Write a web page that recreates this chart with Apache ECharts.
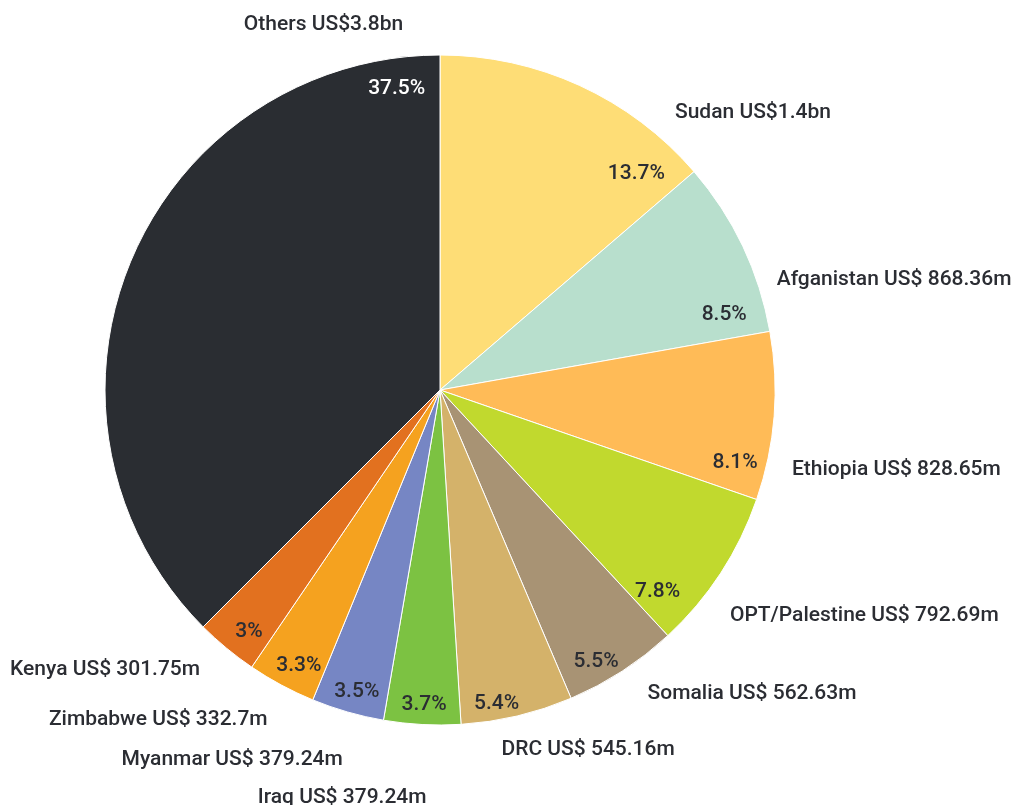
<!DOCTYPE html>
<html>
<head>
<meta charset="utf-8">
<title>Aid recipients</title>
<script src="https://cdn.jsdelivr.net/npm/echarts@6/dist/echarts.min.js"></script>
<style>
  html, body { margin: 0; padding: 0; background: #fff; }
  #chart { width: 1011px; height: 805px; }
</style>
</head>
<body>
<div id="chart"></div>
<script>
// data, clockwise from 12 o'clock
const countries = ['Sudan', 'Afganistan', 'Ethiopia', 'OPT/Palestine', 'Somalia', 'DRC',
  'Iraq', 'Myanmar', 'Zimbabwe', 'Kenya', 'Others'];
const amounts = ['US$1.4bn', 'US$ 868.36m', 'US$ 828.65m', 'US$ 792.69m', 'US$ 562.63m',
  'US$ 545.16m', 'US$ 379.24m', 'US$ 379.24m', 'US$ 332.7m', 'US$ 301.75m', 'US$3.8bn'];
const shares = [13.7, 8.5, 8.1, 7.8, 5.5, 5.4, 3.7, 3.5, 3.3, 3, 37.5];
const colors = ['#fedd76', '#b8dfcd', '#ffbb57', '#c1d92e', '#a89374', '#d4b26a',
  '#7cc242', '#7686c4', '#f5a21f', '#e2711f', '#2a2d32'];

// label nudges (px) so the labels sit where the original put them
const outerShift = [[86, 36], [20, 38], [3, 53], [-4, 37], [15, 14], [-23, 24],
  [10, 63], [3, 38], [-4, 26], [-15, 14], [287, -233]];
const innerShift = [[72, 55], [15, 52], [-2, 49], [-32, 39], [-6, 22], [-12, 24],
  [0, 17], [-1, 15], [0, 13], [-1, 12], [232, -187]];

const textColor = '#2b2d33';
const font = { fontFamily: 'Roboto', fontWeight: 500, fontSize: 21 };

const pieData = countries.map((c, i) => ({
  name: c,
  value: shares[i],
  itemStyle: { color: colors[i] }
}));

const myChart = echarts.init(document.getElementById('chart'));
const options = {
  animation: false,
  series: [
    {
      // slices + outside name labels
      type: 'pie',
      center: [440, 390],
      radius: 335,
      startAngle: 90,
      clockwise: true,
      avoidLabelOverlap: false,
      itemStyle: { borderColor: '#fff', borderWidth: 1 },
      label: Object.assign({
        show: true,
        position: 'outside',
        color: textColor,
        formatter: p => p.name + ' ' + amounts[p.dataIndex]
      }, font),
      labelLine: { show: false, length: 10, length2: 0 },
      labelLayout: p => ({ dx: outerShift[p.dataIndex][0], dy: outerShift[p.dataIndex][1] }),
      emphasis: { disabled: true },
      data: pieData
    },
    {
      // percentage labels near the rim
      type: 'pie',
      center: [440, 390],
      radius: [255, 335],
      startAngle: 90,
      clockwise: true,
      silent: true,
      avoidLabelOverlap: false,
      itemStyle: { color: 'rgba(0,0,0,0)' },
      label: Object.assign({
        show: true,
        position: 'inside',
        formatter: '{c}%',
        color: textColor
      }, font),
      labelLine: { show: false },
      labelLayout: p => ({ dx: innerShift[p.dataIndex][0], dy: innerShift[p.dataIndex][1] }),
      data: countries.map((c, i) => ({
        name: c,
        value: shares[i],
        label: i === 10 ? { color: '#fff' } : undefined
      }))
    }
  ]
};
myChart.setOption(options, true);
window.addEventListener('resize', function () {
  myChart.resize();
});
</script>
</body>
</html>
